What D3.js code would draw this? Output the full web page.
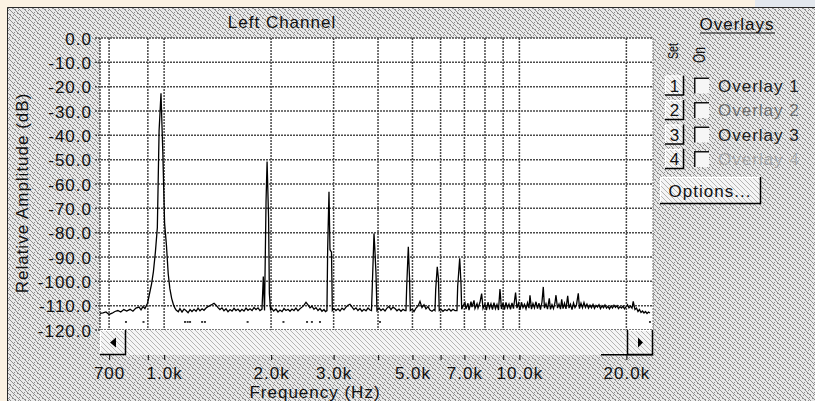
<!DOCTYPE html>
<html><head><meta charset="utf-8">
<script src="https://cdn.jsdelivr.net/npm/d3@7"></script>
<style>
html,body{margin:0;padding:0;background:#fbf2e3;overflow:hidden;}
svg{display:block;font-family:"Liberation Sans",Arial,sans-serif;}
</style></head><body>
<svg id="chart" width="815" height="401"></svg>
<script>
// ---------------- data ----------------
const chartTitle = "Left Channel";
const yTitle = "Relative Amplitude (dB)";
const xTitle = "Frequency (Hz)";
const yTicks = [0,-10,-20,-30,-40,-50,-60,-70,-80,-90,-100,-110,-120];
const xTicks = [700,900,1000,2000,3000,4000,5000,6000,7000,8000,9000,10000,20000];
const xTickLabels = ["700","","1.0k","2.0k","3.0k","","5.0k","","7.0k","","","10.0k","20.0k"];
const overlaySet = ["1","2","3","4"];
const overlayNames = ["Overlay 1","Overlay 2","Overlay 3","Overlay 4"];
const panelTitle = "Overlays";
const optionsLabel = "Options...";
const setLabel = "Set", onLabel = "On";

// spectrum: [frequency Hz, level dB]
const spectrum = [
[660,-113.2],[673,-113.0],[686,-112.6],[700,-113.6],[714,-113.1],[727,-112.4],[741,-112.0],[755,-112.6],
[770,-111.6],[785,-112.2],[802,-111.5],[817,-112.3],[833,-111.0],[850,-110.6],[861,-111.7],[872,-110.4],[883,-111.2],
[898,-109],[910,-105],[922,-101],[933,-96],[945,-88],[957,-78],[968,-38],[980,-22.7],[992,-48],[1003,-76],
[1015,-85],[1027,-97],[1038,-103],[1050,-107],[1062,-109.5],[1073,-111],
[1081,-111.8],[1096,-112.5],[1108,-111.2],[1123,-112.6],[1138,-111.4],[1152,-112.0],[1168,-112.9],[1183,-111.6],
[1198,-112.4],[1214,-111.5],[1230,-112.3],[1246,-111.0],[1262,-112.1],[1279,-111.3],[1295,-111.9],[1312,-111.0],
[1328,-110.4],[1346,-110.0],[1364,-109.5],[1382,-109.0],[1400,-109.8],[1418,-110.8],[1436,-111.6],[1455,-110.9],
[1474,-112.1],[1494,-111.3],[1513,-112.5],[1533,-111.6],[1553,-112.2],[1573,-111.1],[1593,-112.0],[1614,-111.4],
[1635,-112.4],[1656,-111.5],[1678,-112.2],[1700,-111.0],[1722,-111.9],[1745,-111.3],[1768,-112.0],[1791,-110.8],
[1814,-111.6],[1838,-110.9],[1861,-112.0],[1886,-111.4],[1902,-98],[1917,-112],[1936,-67],[1949,-50.8],
[1968,-74],[1978,-105],[1994,-112],
[2007,-111.0],[2034,-112.2],[2064,-111.4],[2092,-112.6],[2119,-111.8],[2147,-112.4],[2175,-111.2],[2203,-112.0],
[2232,-111.5],[2261,-112.3],[2290,-111.4],[2320,-112.0],[2350,-111.0],[2381,-112.1],[2412,-111.3],[2444,-110.6],
[2476,-109.8],[2508,-108.6],[2541,-109.7],[2574,-110.9],[2608,-110.2],[2641,-111.5],[2676,-110.8],[2711,-112.0],
[2746,-111.2],[2782,-112.3],[2818,-111.6],[2845,-112.4],[2873,-112],[2886,-87],[2911,-63.2],[2930,-87],
[2959,-88],[2975,-112],
[3007,-111.2],[3046,-112.0],[3086,-111.3],[3126,-112.2],[3167,-111.0],[3208,-111.7],[3250,-110.6],[3292,-109.8],
[3335,-109.4],[3378,-110.5],[3422,-111.6],[3467,-110.9],[3512,-112.0],[3559,-111.2],[3605,-112.3],[3652,-111.5],
[3700,-112.1],[3748,-111.0],[3797,-111.8],[3834,-112],[3854,-102],[3897,-80.3],[3922,-88],[3947,-96.5],[3973,-112],
[4025,-111.0],[4077,-112.0],[4131,-111.3],[4185,-112.2],[4239,-111.0],[4294,-110.3],[4350,-111.6],[4407,-110.6],
[4465,-111.2],[4523,-112.1],[4582,-111.4],[4642,-112.3],[4702,-111.5],[4764,-112.0],[4795,-112],[4817,-102],
[4868,-85.8],[4906,-98.5],[4931,-112],
[4994,-111.5],[5050,-112.4],[5116,-111.0],[5183,-110.2],[5250,-108.2],[5319,-110.8],[5388,-109.6],[5458,-111.3],
[5529,-110.4],[5601,-111.8],[5675,-112.3],[5749,-111.6],[5786,-112],[5813,-103.3],[5872,-94],[5917,-99],[5948,-112],
[6015,-111.5],[6094,-112.3],[6173,-111.6],[6254,-112.1],[6335,-111.3],[6418,-112.2],[6501,-111.5],[6586,-112.0],
[6672,-112],[6703,-102],[6791,-90.5],[6849,-101],[6879,-111.5],
[6938,-110.2],[7028,-108.8],[7073,-111.4],[7166,-109.0],[7213,-111.8],[7307,-108.3],[7355,-110.6],[7451,-107.8],
[7498,-111.2],[7598,-109.2],[7646,-111.0],[7745,-108.6],[7830,-105.0],[7898,-111.2],[8000,-109.4],[8078,-111.8],
[8157,-108.6],[8237,-111.0],[8316,-109.2],[8398,-111.6],[8481,-108.8],[8562,-111.3],[8648,-109.5],[8733,-111.8],
[8817,-103.2],[8903,-111.4],[8990,-109.0],[9078,-111.6],[9166,-108.7],[9256,-110.9],[9347,-109.3],[9438,-111.5],
[9530,-108.9],[9624,-111.2],[9755,-104.6],[9842,-111.0],[9941,-109.0],[10037,-111.7],[10136,-108.6],[10235,-110.8],
[10334,-109.4],[10436,-111.3],[10539,-108.8],[10641,-111.0],[10709,-105.7],[10814,-111.4],[10919,-109.1],[11026,-110.9],
[11134,-108.4],[11243,-111.2],[11352,-109.0],[11463,-111.6],[11576,-108.5],[11674,-102.3],[11765,-111.0],[11880,-109.2],
[11997,-111.4],[12136,-107.0],[12231,-111.5],[12351,-109.6],[12472,-111.2],[12593,-108.8],[12675,-105.7],[12799,-111.0],
[12925,-109.3],[13050,-111.4],[13153,-107.4],[13264,-111.2],[13393,-109.0],[13524,-111.3],[13674,-106.0],[13790,-111.0],
[13925,-109.4],[14062,-111.6],[14200,-108.9],[14336,-110.8],[14477,-109.6],[14646,-104.9],[14759,-111.2],[14905,-109.0],
[15051,-110.9],[15197,-108.7],[15347,-110.7],[15493,-109.4],[15646,-111.0],[15799,-109.8],[15955,-110.9],[16112,-109.5],
[16268,-111.1],[16427,-109.9],[16587,-110.6],[16748,-109.6],[16911,-111.2],[17077,-110.0],[17244,-110.9],[17412,-109.7],
[17582,-111.0],[17755,-110.3],[17929,-111.3],[18104,-110.1],[18282,-111.0],[18459,-109.8],[18639,-110.7],[18822,-110.0],
[19006,-111.2],[19190,-110.4],[19379,-111.0],[19569,-110.2],[19756,-111.3],[19953,-110.5],[20148,-109.6],[20342,-110.9],
[20543,-110.2],[20746,-111.0],[20910,-108.2],[21149,-111.6],[21356,-111.0],[21565,-112.4],[21776,-111.6],[21989,-112.8],
[22205,-112.2],[22421,-113.0],[22640,-112.4],[22866,-113.2],[23085,-112.6],[23308,-113.0]
];
// isolated low readings drawn as dots
const dipHz = [781,875,1145,1165,1183,1279,1303,1718,2167,2525,2606,2746,4051,23308];
const dipDb = [-116.7,-116.7,-116.7,-116.7,-116.7,-116.7,-116.7,-116.7,-116.7,-116.7,-116.7,-116.7,-116.7,-116.7];

// ---------------- drawing ----------------
const svg = d3.select("#chart");
const W = 815, H = 401;
const P = {l:100, r:653, t:38, b:330};
const x = d3.scaleLog().domain([660, 23615]).range([100, 652]);
const y = d3.scaleLinear().domain([-120, 0]).range([330, 38]);
const FONT = 17;

const defs = svg.append("defs");
function ditherPattern(id, size, base, dark, test) {
  const p = defs.append("pattern").attr("id", id).attr("width", size).attr("height", size)
    .attr("patternUnits", "userSpaceOnUse");
  p.append("rect").attr("width", size).attr("height", size).attr("fill", base);
  for (let i = 0; i < size; i++) for (let j = 0; j < size; j++)
    if (test(i, j)) p.append("rect").attr("x", i).attr("y", j).attr("width", 1).attr("height", 1)
      .attr("fill", dark).attr("shape-rendering", "crispEdges");
}
ditherPattern("dither", 10, "#e9e9e9", "#8f8f8f", (i, j) => (2 * i + 3 * j) % 5 === 0 || (i * 3 + j) % 10 === 4);
ditherPattern("track", 10, "#f5f5f5", "#b5b5b5", (i, j) => (2 * i + 3 * j) % 5 === 0);
defs.append("clipPath").attr("id", "plotclip").append("rect")
  .attr("x", P.l).attr("y", P.t - 2).attr("width", P.r - P.l).attr("height", P.b - P.t + 2);

// outer frame
svg.append("rect").attr("x", 0).attr("y", 0).attr("width", W).attr("height", H).attr("fill", "#fbf2e3");
svg.append("rect").attr("x", 755).attr("y", 0).attr("width", W - 755).attr("height", 7).attr("fill", "#e3e8ee");
svg.append("rect").attr("x", 7).attr("y", 7).attr("width", W - 7).attr("height", H - 7).attr("fill", "url(#dither)");
svg.append("path").attr("d", `M7.5,${H}V7.5H${W}`).attr("fill", "none").attr("stroke", "#2a2a2a").attr("stroke-width", 1);

// plot background
svg.append("rect").attr("x", P.l).attr("y", P.t).attr("width", P.r - P.l).attr("height", P.b - P.t).attr("fill", "#ffffff");

// grid
const grid = svg.append("g").attr("stroke", "#4a4a4a").attr("stroke-width", 1.5).attr("stroke-dasharray", "2,1");
grid.selectAll("line.h").data(yTicks).join("line").attr("class", "h")
  .attr("x1", 95).attr("x2", P.r).attr("y1", d => y(d)).attr("y2", d => y(d));
grid.selectAll("line.v").data(xTicks).join("line").attr("class", "v")
  .attr("x1", d => x(d)).attr("x2", d => x(d)).attr("y1", P.t).attr("y2", P.b);
grid.append("line").attr("x1", P.l).attr("x2", P.l).attr("y1", P.t).attr("y2", P.b);
grid.append("line").attr("x1", P.r).attr("x2", P.r).attr("y1", P.t).attr("y2", P.b).attr("stroke-opacity", 0.5);

// spectrum
const pts = spectrum.map(d => ({f: d[0], db: d[1]}));
svg.append("path").datum(pts).attr("clip-path", "url(#plotclip)")
  .attr("fill", "none").attr("stroke", "#000").attr("stroke-width", 1.3).attr("stroke-linejoin", "miter")
  .attr("d", d3.line().x(d => x(d.f)).y(d => y(d.db)));
svg.append("g").selectAll("rect").data(dipHz.map((f, i) => ({f, db: dipDb[i]}))).join("rect")
  .attr("x", d => x(d.f) - 1).attr("y", d => y(d.db) - 0.75).attr("width", 2).attr("height", 1.5).attr("fill", "#000");

// y axis
const yAxis = d3.axisLeft(y).tickValues(yTicks).tickSize(0).tickPadding(8)
  .tickFormat(d => d.toFixed(1));
const gy = svg.append("g").attr("transform", `translate(${P.l},0)`).call(yAxis);
gy.select(".domain").remove();
gy.selectAll("text").attr("font-size", FONT).attr("font-family", "Liberation Sans, Arial, sans-serif")
  .attr("fill", "#111").attr("letter-spacing", "1px").attr("dy", "0.36em");

// scrollbar
svg.append("rect").attr("x", 126).attr("y", P.b).attr("width", 627 - 126).attr("height", 25).attr("fill", "url(#track)");
function button(x0, y0, w, h, full) {
  const g = svg.append("g");
  g.append("rect").attr("x", x0).attr("y", y0).attr("width", w).attr("height", h).attr("fill", "url(#track)");
  g.append("path").attr("d", `M${x0+0.5},${y0+h}V${y0+0.5}H${x0+w}`).attr("fill", "none").attr("stroke", "#fff").attr("stroke-width", 1);
  g.append("path").attr("d", full ? `M${x0+0.5},${y0}V${y0+h-0.5}H${x0+w-0.5}V${y0}` : `M${x0},${y0+h-0.5}H${x0+w-0.5}V${y0}`)
    .attr("fill", "none").attr("stroke", "#000").attr("stroke-width", 1.5);
  return g;
}
button(100, P.b, 26, 25, false);
svg.append("path").attr("d", "M110,342.5L116,337.5V347.5Z").attr("fill", "#000");
button(627, P.b, 26, 25, true);
svg.append("path").attr("d", "M643,342.5L638,337.5V347.5Z").attr("fill", "#000");
svg.append("line").attr("x1", 601).attr("x2", 653).attr("y1", 354.75).attr("y2", 354.75).attr("stroke", "#000").attr("stroke-width", 1.5);

// x axis
const xAxis = d3.axisBottom(x).tickValues(xTicks).tickSize(5).tickPadding(7)
  .tickFormat((d, i) => xTickLabels[i]);
const gx = svg.append("g").attr("transform", `translate(0,355)`).call(xAxis);
gx.select(".domain").remove();
gx.selectAll(".tick line").attr("stroke", "#222").attr("stroke-width", 1.2);
gx.selectAll("text").attr("font-size", FONT).attr("font-family", "Liberation Sans, Arial, sans-serif")
  .attr("fill", "#111").attr("letter-spacing", "1px");

// titles
const txt = (s, xx, yy, opts = {}) => svg.append("text").attr("x", xx).attr("y", yy)
  .attr("font-size", opts.size || FONT).attr("fill", opts.fill || "#111")
  .attr("text-anchor", opts.anchor || "middle").attr("letter-spacing", opts.ls || "1px").text(s);
txt(chartTitle, 282, 28);
txt(xTitle, 315, 398);
svg.append("text").attr("transform", "translate(28,193) rotate(-90)").attr("text-anchor", "middle")
  .attr("font-size", FONT).attr("fill", "#111").attr("letter-spacing", "1px").text(yTitle);

// overlays panel
txt(panelTitle, 737, 30);
svg.append("line").attr("x1", 700).attr("x2", 775).attr("y1", 33).attr("y2", 33).attr("stroke", "#111").attr("stroke-width", 1);
svg.append("text").attr("transform", "translate(678,59) rotate(-90)").attr("font-size", 15).attr("fill", "#111")
  .attr("textLength", 16).attr("lengthAdjust", "spacingAndGlyphs").text(setLabel);
svg.append("text").attr("transform", "translate(705,63) rotate(-90)").attr("font-size", 16).attr("fill", "#111")
  .attr("textLength", 16).attr("lengthAdjust", "spacingAndGlyphs").text(onLabel);

const labelColors = ["#222", "#707070", "#222", "#ababab"];
overlaySet.forEach((s, i) => {
  const base = 91.5 + i * 24.5;
  button(665, base - 16, 19, 20, false);
  txt(s, 674.5, base, {ls: "0px"});
  // checkbox
  svg.append("rect").attr("x", 694).attr("y", base - 14).attr("width", 15).attr("height", 16).attr("fill", "#f6f6f6");
  svg.append("path").attr("d", `M694.75,${base + 2}V${base - 13.25}H709`).attr("fill", "none")
    .attr("stroke", "#111").attr("stroke-width", 1.5);
  txt(overlayNames[i], 718, base, {anchor: "start", fill: labelColors[i]});
});
button(660, 177, 101, 27, false);
txt(optionsLabel, 710, 197);
</script>
</body></html>
